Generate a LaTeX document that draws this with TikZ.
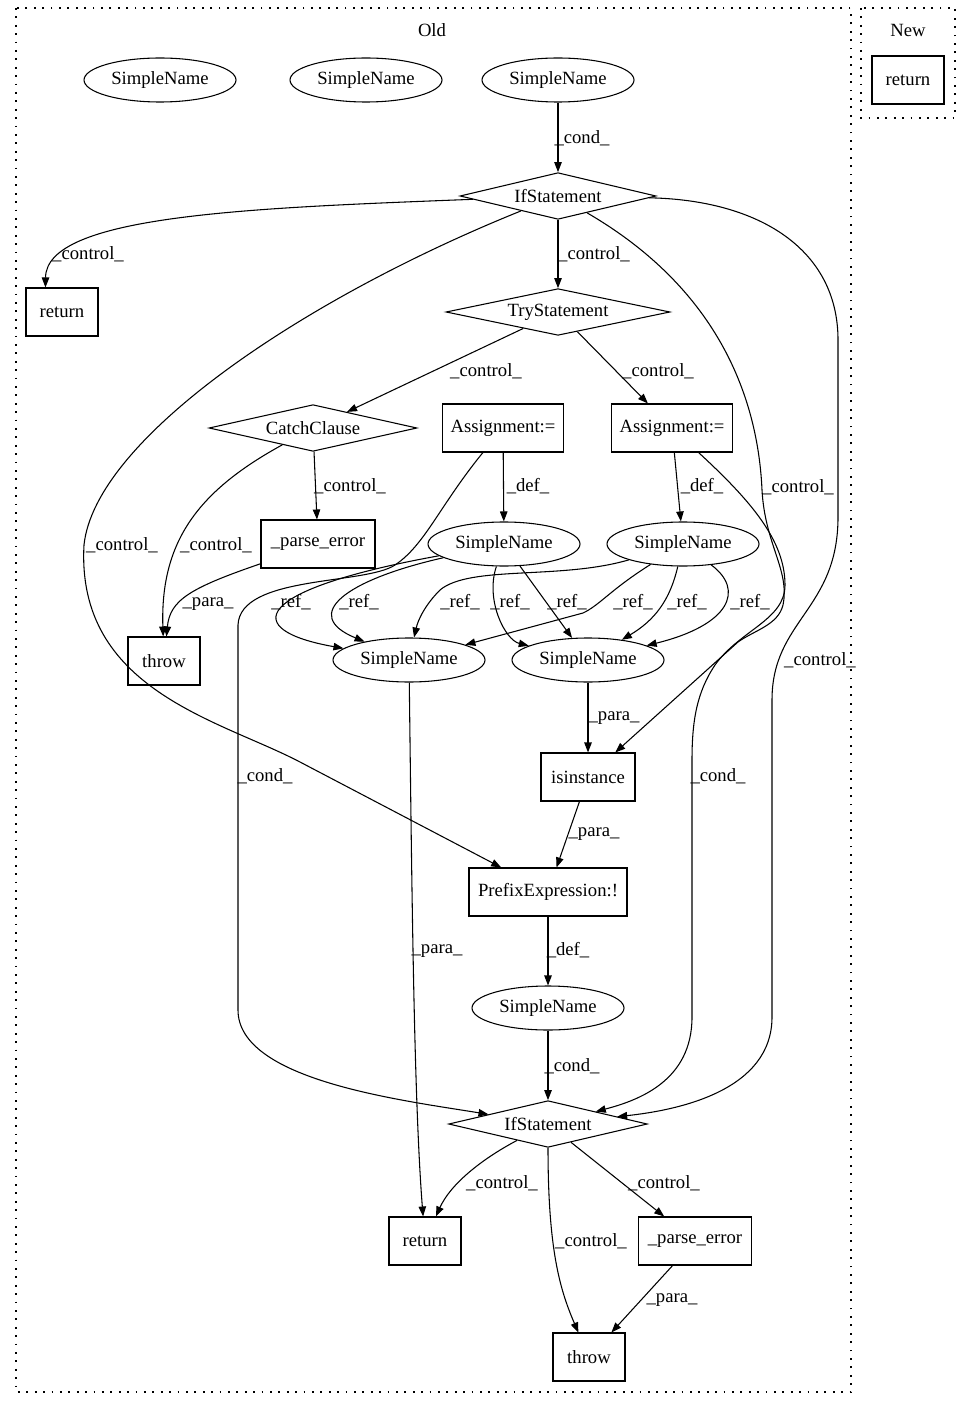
\documentclass[tikz,border=0pt]{standalone}
\usepackage{fontspec}
\setmainfont{Liberation Serif}
\usetikzlibrary{shapes.geometric,arrows.meta}
\tikzset{
 base/.style={font=\fontsize{14}{16}\selectfont, inner sep=0pt, line width=0.8pt},
 ell/.style={base, draw, ellipse, minimum width=114pt, minimum height=33pt},
 box/.style={base, draw, rectangle, minimum height=36pt},
 dia/.style={base, draw, diamond, aspect=4, minimum height=35pt},
 lbl/.style={font=\fontsize{14}{16}\selectfont, inner sep=0pt},
 edge/.style={line width=0.8pt, -{Triangle[length=7.5pt,width=5.6pt]}},
 clus/.style={line width=0.8pt, dash pattern=on 1.3pt off 5pt},
}
\begin{document}
\begin{tikzpicture}[x=0.75pt,y=-0.75pt]
\useasboundingbox (0,0) rectangle (971,1408);
% clusters
\draw[clus] (16,8) rectangle (851,1392);
\node[lbl] (oldl) at (432,30) {Old};
\draw[clus] (861,8) rectangle (955,118);
\node[lbl] (newl) at (908,30) {New};
\node[box, minimum width=54pt] (retn) at (908,80) {return};
% nodes
\node[ell] (sn1) at (160,80) {SimpleName};
\node[ell] (sn2) at (366,80) {SimpleName};
\node[ell] (sn3) at (558,80) {SimpleName};
\node[dia, minimum width=147pt] (if1) at (558,196) {IfStatement};
\node[box, minimum width=54pt] (ret1) at (62,312) {return};
\node[dia, minimum width=168pt] (try) at (558,312) {TryStatement};
\node[dia, minimum width=156pt] (catch) at (313,428) {CatchClause};
\node[box, minimum width=91pt] (asg1) at (503,428) {Assignment:=};
\node[box, minimum width=91pt] (asg2) at (672,428) {Assignment:=};
\node[box, minimum width=85.5pt] (parse1) at (318,544) {\_parse\_error};
\node[ell] (sna) at (504,544) {SimpleName};
\node[ell] (snb) at (683,544) {SimpleName};
\node[box, minimum width=54pt] (throw1) at (164,661) {throw};
\node[ell] (snc) at (409,660) {SimpleName};
\node[ell] (snd) at (588,660) {SimpleName};
\node[box, minimum width=70.5pt] (isin) at (588,777) {isinstance};
\node[box, minimum width=118.5pt] (prefix) at (548,892) {PrefixExpression:!};
\node[ell] (sne) at (548,1008) {SimpleName};
\node[dia, minimum width=149pt] (if2) at (548,1124) {IfStatement};
\node[box, minimum width=54pt] (ret2) at (425,1241) {return};
\node[box, minimum width=85pt] (parse2) at (695,1241) {\_parse\_error};
\node[box, minimum width=54pt] (throw2) at (589,1357) {throw};
% edges
\draw[edge] (sn3) -- (if1);
\node[lbl] (l1) at (582,138) {\_cond\_};
\draw[edge] (if1) .. controls (250,208) and (46,215) .. (ret1.124);
\node[lbl] (l2) at (88,254) {\_control\_};
\draw[edge] (if1) -- (try);
\node[lbl] (l3) at (594,254) {\_control\_};
\draw[edge] (try) -- (catch);
\node[lbl] (l4) at (486,371) {\_control\_};
\draw[edge] (try) -- (asg2);
\node[lbl] (l5) at (658,371) {\_control\_};
\draw[edge] (catch) -- (parse1);
\node[lbl] (l6) at (350,486) {\_control\_};
\draw[edge] (asg1) -- (sna);
\node[lbl] (l7) at (528,486) {\_def\_};
\draw[edge] (asg2) -- (snb);
\node[lbl] (l8) at (702,486) {\_def\_};
% if1 -> prefix
\draw[edge] (if1) .. controls (300,300) and (95,440) .. (84,545) .. controls (76,690) and (220,720) .. (300,762) -- (prefix);
\node[lbl] (l9) at (122,545) {\_control\_};
% if1 -> isinstance
\draw[edge] (if1) .. controls (720,290) and (758,400) .. (762,490) .. controls (765,545) and (790,570) .. (783,605) .. controls (778,625) and (755,630) .. (738,642) -- (isin);
\node[lbl] (l10) at (798,487) {\_control\_};
% if1 -> if2
\draw[edge] (if1) .. controls (760,200) and (838,250) .. (838,340) -- (838,517) .. controls (838,610) and (772,620) .. (772,700) -- (772,1017) .. controls (772,1090) and (680,1110) .. (if2);
\node[lbl] (l11) at (820,660) {\_control\_};
% catch -> throw1
\draw[edge] (catch) .. controls (200,490) and (160,540) .. (throw1);
\node[lbl] (l12) at (216,545) {\_control\_};
% parse1 -> throw1
\draw[edge] (parse1) .. controls (190,588) and (170,600) .. (throw1);
\node[lbl] (l13) at (208,604) {\_para\_};
% asg1 -> if2
\draw[edge] (asg1) .. controls (440,505) and (425,545) .. (395,565) .. controls (365,585) and (240,575) .. (238,625) -- (238,1010) .. controls (238,1080) and (400,1100) .. (if2);
\node[lbl] (l14) at (265,776) {\_cond\_};
% asg2 -> if2
\draw[edge] (asg2) .. controls (750,500) and (785,540) .. (785,585) .. controls (785,620) and (740,630) .. (715,665) .. controls (697,692) and (692,720) .. (692,760) -- (692,1017) .. controls (692,1080) and (640,1100) .. (if2);
\node[lbl] (l15) at (718,776) {\_cond\_};
% refs
\draw[edge] (sna) .. controls (250,590) and (240,630) .. (snc);
\node[lbl] (r1) at (291,602) {\_ref\_};
\draw[edge] (sna) .. controls (345,580) and (300,615) .. (snc);
\node[lbl] (r2) at (359,602) {\_ref\_};
\draw[edge] (snb) .. controls (560,580) and (470,565) .. (440,590) .. controls (425,605) and (418,620) .. (snc);
\node[lbl] (r3) at (460,602) {\_ref\_};
\draw[edge] (sna) .. controls (485,600) and (505,640) .. (snd);
\node[lbl] (r4) at (510,602) {\_ref\_};
\draw[edge] (sna) -- (snd);
\node[lbl] (r5) at (567,602) {\_ref\_};
\draw[edge] (snb) .. controls (610,590) and (600,605) .. (583,613) -- (snc);
\node[lbl] (r6) at (633,602) {\_ref\_};
\draw[edge] (snb) .. controls (670,600) and (655,620) .. (snd);
\node[lbl] (r7) at (687,602) {\_ref\_};
\draw[edge] (snb) .. controls (745,590) and (730,625) .. (snd);
\node[lbl] (r8) at (750,602) {\_ref\_};
% lower part
\draw[edge] (snd) -- (isin);
\node[lbl] (l16) at (614,718) {\_para\_};
\draw[edge] (isin) -- (prefix);
\node[lbl] (l17) at (594,834) {\_para\_};
\draw[edge] (snc) .. controls (412,900) and (414,1100) .. (ret2);
\node[lbl] (l18) at (437,951) {\_para\_};
\draw[edge] (prefix) -- (sne);
\node[lbl] (l19) at (568,950) {\_def\_};
\draw[edge] (sne) -- (if2);
\node[lbl] (l20) at (572,1066) {\_cond\_};
\draw[edge] (if2) .. controls (480,1160) and (450,1185) .. (ret2);
\node[lbl] (l21) at (502,1183) {\_control\_};
\draw[edge] (if2) .. controls (548,1250) and (560,1290) .. (throw2);
\node[lbl] (l22) at (591,1241) {\_control\_};
\draw[edge] (if2) -- (parse2);
\node[lbl] (l23) at (664,1183) {\_control\_};
\draw[edge] (parse2) -- (throw2);
\node[lbl] (l24) at (672,1300) {\_para\_};
\end{tikzpicture}
\end{document}
